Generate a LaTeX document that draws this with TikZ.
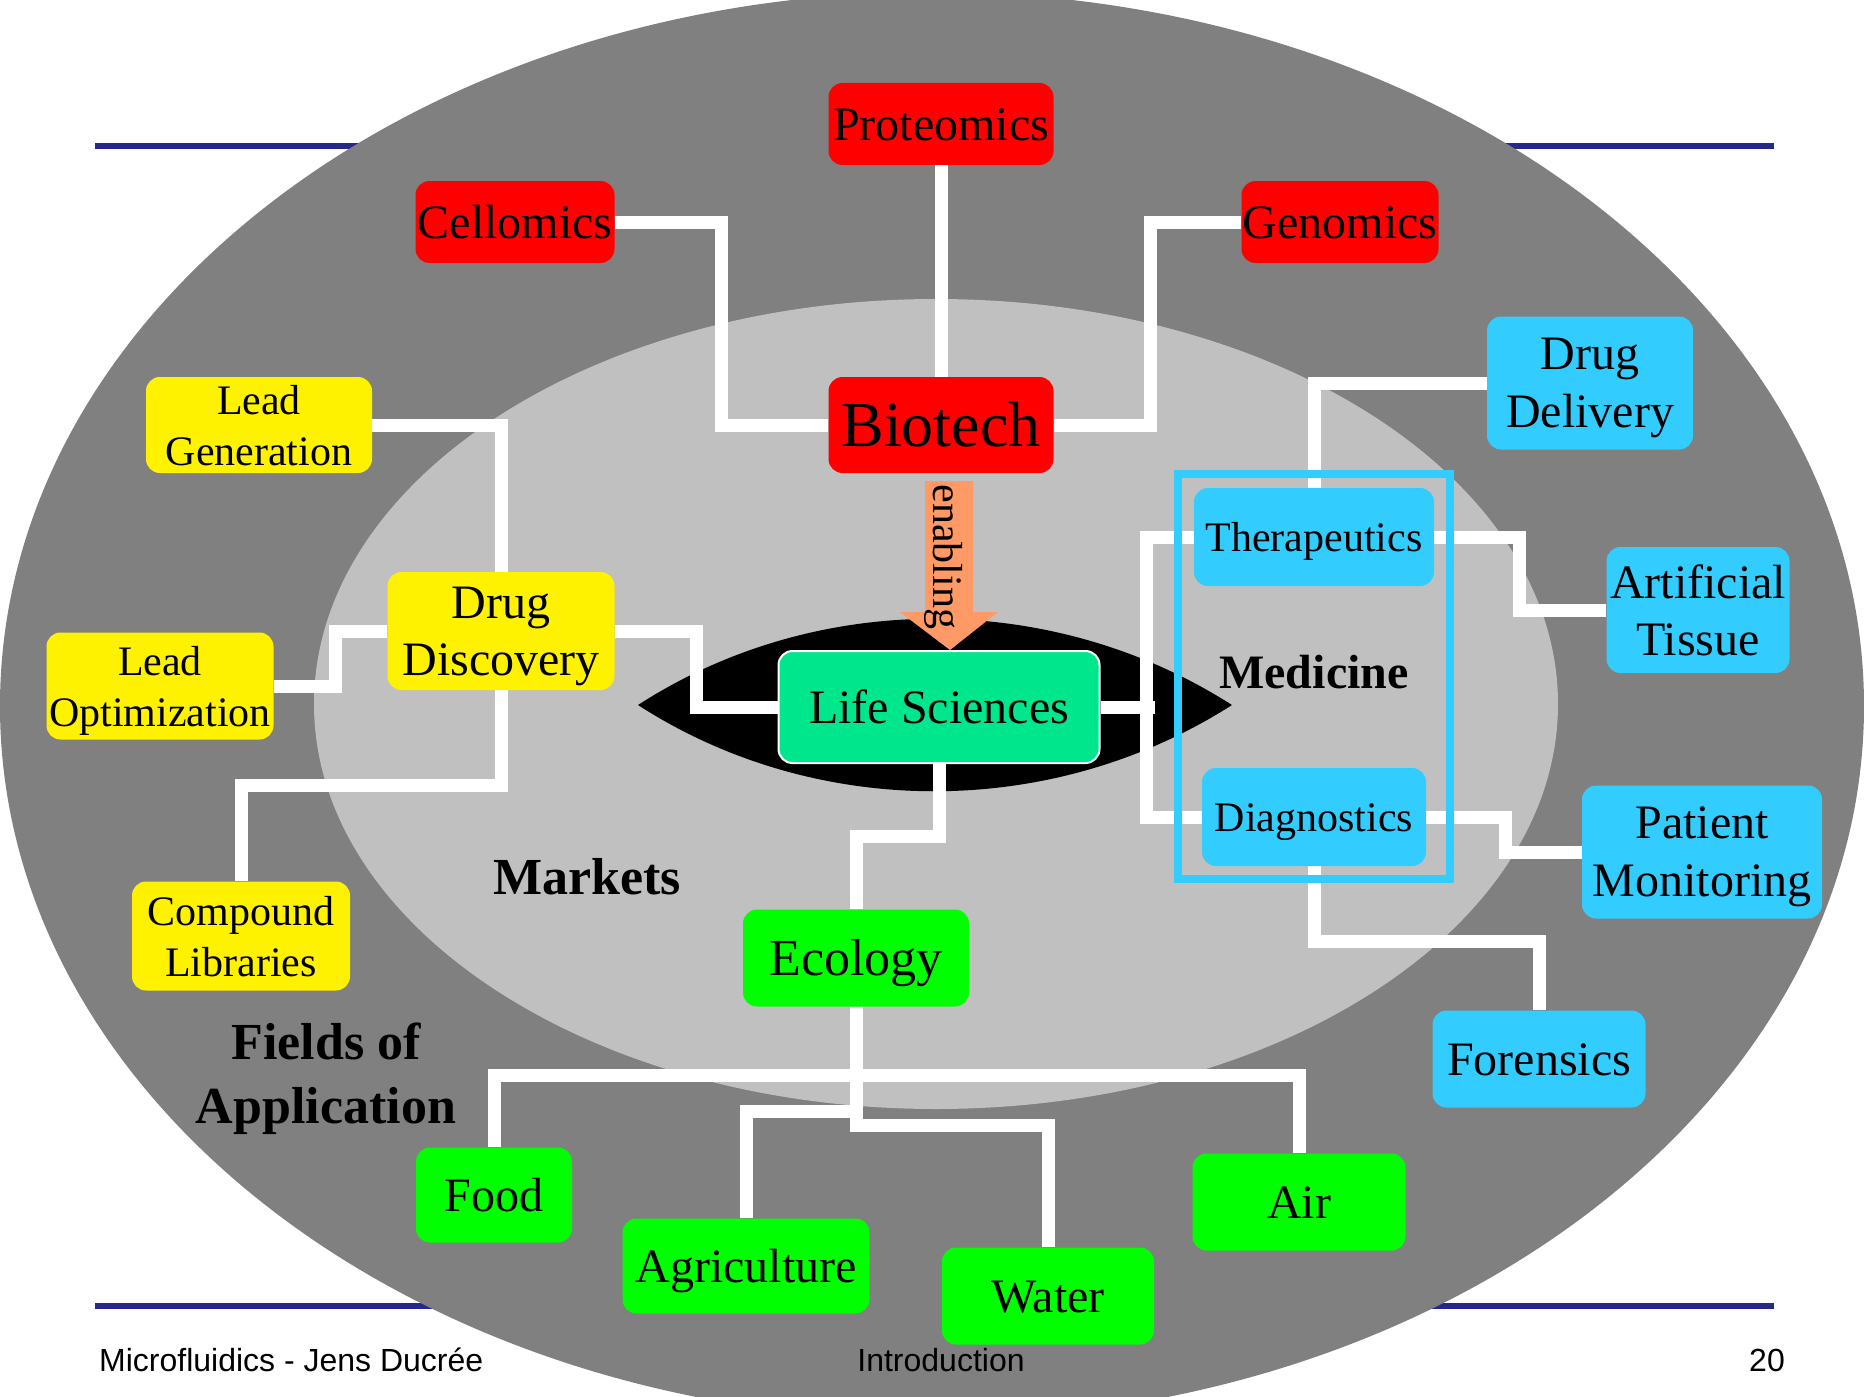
\documentclass[tikz,border=0pt]{standalone}
\usepackage{fontspec}
\setmainfont{Liberation Serif}
\newfontfamily\arialf{Liberation Sans}
\newcommand\mysz[2]{\fontsize{#1}{#2}\selectfont}
\definecolor{dgray}{RGB}{128,128,128}
\definecolor{lgray}{RGB}{192,192,192}
\definecolor{cyanb}{RGB}{51,204,255}
\definecolor{lsg}{RGB}{0,230,140}
\definecolor{navyl}{RGB}{40,40,140}
\definecolor{orng}{RGB}{255,153,102}
\definecolor{gbox}{RGB}{0,255,0}
\begin{document}
\begin{tikzpicture}[x=1pt,y=-1pt,
  box/.style={rounded corners=14pt, inner sep=0pt, align=center, text depth=0pt},
  one/.style={text height=#1, text depth=0pt},
  f48/.style={font=\mysz{48}{57}},
  f42/.style={font=\mysz{42}{51}},
  conn/.style={draw=white, line width=13pt, line join=miter},
  lbl/.style={font=\bfseries\mysz{52}{64}, align=center, inner sep=0pt}
]
\useasboundingbox (0,0) rectangle (1864,1397);
\clip (0,0) rectangle (1864,1397);
\fill[white] (0,0) rectangle (1864,1397);
% header / footer rules
\draw[navyl, line width=6pt] (95,146) -- (1774,146);
\draw[navyl, line width=6pt] (95,1306) -- (1774,1306);
% ellipses
\fill[dgray] (932,706) ellipse [x radius=932pt, y radius=714pt];
\fill[lgray] (936,704) ellipse [x radius=622pt, y radius=405pt];
\fill[black] (638,705) .. controls (816,590) and (1052,590) .. (1232,705)
             .. controls (1052,820) and (816,820) .. (638,705) -- cycle;

% enabling arrow
\fill[orng] (925,481) -- (973,481) -- (973,612) -- (998,612) -- (950,650)
            -- (900,612) -- (925,612) -- cycle;
\node[rotate=-90, font=\mysz{42}{50}, inner sep=0pt] (enab) at (944,557) {enabling};

% boxes: biotech
\node[box, fill=red, f48, one=32pt, minimum width=225pt, minimum height=82pt] (prot) at (941,124) {Proteomics};
\node[box, fill=red, f48, one=32pt, minimum width=199pt, minimum height=82pt] (cell) at (515,222) {Cellomics};
\node[box, fill=red, f48, one=32pt, minimum width=197pt, minimum height=82pt] (gen) at (1340,222) {Genomics};
\node[box, fill=red, font=\mysz{64}{72}, one=42pt, minimum width=225pt, minimum height=96pt] (bio) at (941,425) {Biotech};
% yellow
\node[box, fill=yellow, f42, minimum width=226pt, minimum height=96pt] (lg) at (259,425) {Lead\\Generation};
\node[box, fill=yellow, f42, minimum width=227pt, minimum height=107pt] (lo) at (160,686) {Lead\\Optimization};
\node[box, fill=yellow, f48, minimum width=227pt, minimum height=118pt] (dd) at (501,631) {Drug\\Discovery};
\node[box, fill=yellow, f42, minimum width=218pt, minimum height=109pt] (cl) at (241,936) {Compound\\Libraries};
% center
\node[box, fill=lsg, draw=white, line width=2pt, f48, one=32pt, minimum width=321pt, minimum height=112pt] (ls) at (939,707) {Life Sciences};
% green
\node[box, fill=gbox, font=\mysz{52}{60}, one=34pt, minimum width=226pt, minimum height=97pt] (eco) at (856,958) {Ecology};
\node[box, fill=gbox, f48, one=32pt, minimum width=156pt, minimum height=95pt] (food) at (494,1195) {Food};
\node[box, fill=gbox, f48, one=32pt, minimum width=247pt, minimum height=95pt] (agri) at (746,1266) {Agriculture};
\node[box, fill=gbox, f48, one=32pt, minimum width=212pt, minimum height=97pt] (water) at (1048,1296) {Water};
\node[box, fill=gbox, f48, one=32pt, minimum width=213pt, minimum height=97pt] (air) at (1299,1202) {Air};
% cyan
\node[box, fill=cyanb, f42, one=28pt, minimum width=240pt, minimum height=98pt] (ther) at (1314,537) {Therapeutics};
\node[box, fill=cyanb, f42, one=28pt, minimum width=224pt, minimum height=98pt] (diag) at (1314,817) {Diagnostics};
\node[box, fill=cyanb, font=\mysz{48}{58}, minimum width=206pt, minimum height=133pt] (ddl) at (1590,383) {Drug\\Delivery};
\node[box, fill=cyanb, f48, minimum width=183pt, minimum height=126pt] (art) at (1698,610) {Artificial\\Tissue};
\node[box, fill=cyanb, font=\mysz{48}{58}, minimum width=240pt, minimum height=133pt] (pm) at (1702,852) {Patient\\Monitoring};
\node[box, fill=cyanb, f48, one=32pt, minimum width=213pt, minimum height=97pt] (fore) at (1539,1059) {Forensics};

% connectors
\draw[conn] (cell.east) -- ++(107,0) |- (bio.west);
\draw[conn] (prot.south) -- (bio.north);
\draw[conn] (gen.west) -- ++(-91,0) |- (bio.east);
\draw[conn] (lg.east) -| (dd.north);
\draw[conn] (dd.south) -- ++(0,95) -| (cl.north);
\draw[conn] (lo.east) -- ++(62,0) |- (dd.west);
\draw[conn] (dd.east) -- ++(82,0) |- (ls.west);
\draw[conn] (ls.east) -- ++(54,0);
\draw[conn] (ther.west) -- ++(-47,0) |- (diag.west);
\draw[conn] (ther.north) |- (ddl.west);
\draw[conn] (ther.east) -- ++(85,0) |- (art.west);
\draw[conn] (diag.east) -- ++(79,0) |- (pm.west);
\draw[conn] (diag.south) -- ++(0,75) -| (fore.north);
\draw[conn] (ls.south) -- ++(0,72) -| (eco.north);
\draw[conn] (eco.south) -- ++(0,69) -| (food.north);
\draw[conn] (eco.south) -- ++(0,69) -| (air.north);
\draw[conn] (eco.south) -- ++(0,105) -| (agri.north);
\draw[conn] (eco.south) -- ++(0,119) -| (water.north);

% medicine frame
\node[draw=cyanb, line width=8pt, minimum width=272pt, minimum height=405pt, inner sep=0pt] (mframe) at (1314,676.5) {};

% labels
\node[font=\bfseries\mysz{48}{56}, inner sep=0pt, text height=32pt, text depth=0pt] (med) at (1314,672) {Medicine};
\node[lbl, text height=34pt, text depth=0pt] (mkt) at (587,877) {Markets};
\node[lbl, text depth=0pt] (fields) at (326,1073) {Fields of\\Application};

% footer
\node[anchor=base west, font=\arialf\mysz{32}{38}, inner sep=0pt] (ft1) at (99,1371) {Microfluidics - Jens Ducrée};
\node[anchor=base, font=\arialf\mysz{32}{38}, inner sep=0pt] (ft2) at (941,1371) {Introduction};
\node[anchor=base east, font=\arialf\mysz{32}{38}, inner sep=0pt] (ft3) at (1785,1371) {20};
\end{tikzpicture}
\end{document}
